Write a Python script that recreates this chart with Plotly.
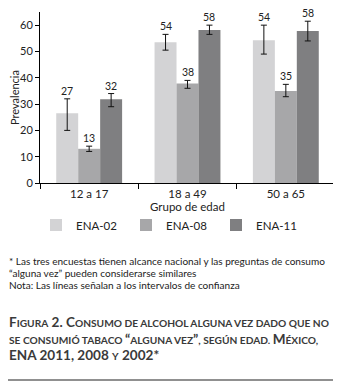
import plotly.graph_objects as go

groups = ["12 a 17", "18 a 49", "50 a 65"]
series = ["ENA-02", "ENA-08", "ENA-11"]
colors = ["#d3d3d5", "#a7a7a9", "#7f7f81"]

ena02 = [26.5, 53.5, 54.3]
ena02_lo = [20.0, 50.5, 49.0]
ena02_hi = [32.0, 56.5, 60.0]
ena02_lbl = ["27", "54", "54"]

ena08 = [13.0, 37.8, 35.0]
ena08_lo = [12.0, 36.0, 32.8]
ena08_hi = [14.0, 39.0, 37.5]
ena08_lbl = ["13", "38", "35"]

ena11 = [31.8, 58.2, 57.8]
ena11_lo = [29.0, 56.5, 54.0]
ena11_hi = [34.0, 60.0, 61.5]
ena11_lbl = ["32", "58", "58"]

vals = [ena02, ena08, ena11]
los = [ena02_lo, ena08_lo, ena11_lo]
his = [ena02_hi, ena08_hi, ena11_hi]
lbls = [ena02_lbl, ena08_lbl, ena11_lbl]

FONT = "Lato"
TXT = "#222222"

fig = go.Figure()
for s, v, lo, hi, c in zip(series, vals, los, his, colors):
    fig.add_trace(go.Bar(
        name=s, x=groups, y=v, marker=dict(color=c, line=dict(width=0)),
        error_y=dict(type="data", symmetric=False,
                     array=[h - a for h, a in zip(hi, v)],
                     arrayminus=[a - l for a, l in zip(v, lo)],
                     color="#111111", thickness=1, width=3),
    ))

bargap = 0.33
bw = (1 - bargap) / 3
annotations = []
for k, (hi, lb) in enumerate(zip(his, lbls)):
    for i in range(len(groups)):
        annotations.append(dict(
            x=i + (k - 1) * bw, y=hi[i], xref="x", yref="y", text=lb[i],
            showarrow=False, yanchor="middle", yshift=8, borderpad=0,
            font=dict(family=FONT, size=10.5, color=TXT)))

# page body has an 8px margin; coordinates below are reference-picture pixels
OFF = 8
H_PLOT, W_PLOT = 171, 295
def py(px):
    return (183 - px) / H_PLOT
def pxx(px):
    return (px - 40) / W_PLOT

foot = [
    "* Las tres encuestas tienen alcance nacional y las preguntas de consumo",
    "“alguna vez” pueden considerarse similares",
    "Nota: Las líneas señalan a los intervalos de confianza",
]
for j, t in enumerate(foot):
    annotations.append(dict(
        x=pxx(8), xref="paper", y=py(261 + 12 * j), yref="paper", text=t,
        showarrow=False, xanchor="left", yanchor="middle", borderpad=0,
        font=dict(family=FONT, size=10.05, color=TXT)))

B = 13.55
S = 10.2
def big(t):
    return f'<span style="font-size:{B}px">{t}</span>'
def sm(t):
    return f'<span style="font-size:{S}px">{t}</span>'

cap = [
    big("F") + sm("IGURA") + big(" 2. C") + sm("ONSUMO DE ALCOHOL ALGUNA VEZ DADO QUE NO"),
    sm("SE CONSUMIÓ TABACO ") + big("“") + sm("ALGUNA VEZ") + big("”") + sm(", SEGÚN EDAD. ") + big("M") + sm("ÉXICO,"),
    big("ENA 2011, 2008 ") + sm("Y") + big(" 2002*"),
]
for j, t in enumerate(cap):
    annotations.append(dict(
        x=pxx(7), xref="paper", y=py(322 + 16.5 * j), yref="paper",
        text="<b>" + t + "</b>", showarrow=False, xanchor="left", yanchor="middle",
        font=dict(family=FONT, size=B, color="#3a3a3a")))

fig.update_layout(
    width=341 - OFF, height=385 - OFF,
    margin=dict(l=40 - OFF, r=341 - 40 - W_PLOT, t=12 - OFF, b=385 - 183, autoexpand=False),
    paper_bgcolor="white", plot_bgcolor="white",
    barmode="group", bargap=bargap, bargroupgap=0,
    font=dict(family=FONT, size=11, color=TXT),
    annotations=annotations,
    showlegend=True,
    legend=dict(orientation="h", x=pxx(36), xanchor="left",
                y=py(225), yanchor="middle",
                entrywidth=45, entrywidthmode="pixels",
                font=dict(family=FONT, size=11.5, color=TXT),
                traceorder="normal", itemwidth=30),
    shapes=[dict(type="line", xref="paper", yref="paper",
                 x0=pxx(7), x1=pxx(338),
                 y0=py(380), y1=py(380),
                 line=dict(color="#222222", width=1.2))],
)
fig.update_xaxes(
    type="category", range=[-0.5, 2.5], showline=True, linecolor="black", linewidth=1,
    ticks="outside", tickson="boundaries", ticklen=5, tickcolor="black",
    showgrid=False, tickfont=dict(family=FONT, size=11.5, color=TXT),
    title=dict(text="Grupo de edad", font=dict(family=FONT, size=11.5, color=TXT), standoff=2),
)
fig.update_yaxes(
    range=[0, 65], showline=True, linecolor="black", linewidth=1,
    ticks="outside", ticklen=4, tickcolor="black", dtick=10,
    showgrid=False, zeroline=False, tickfont=dict(family=FONT, size=11, color=TXT),
    title=dict(text="Prevalencia", font=dict(family=FONT, size=11, color=TXT), standoff=4),
)
fig.write_html("out.html")
